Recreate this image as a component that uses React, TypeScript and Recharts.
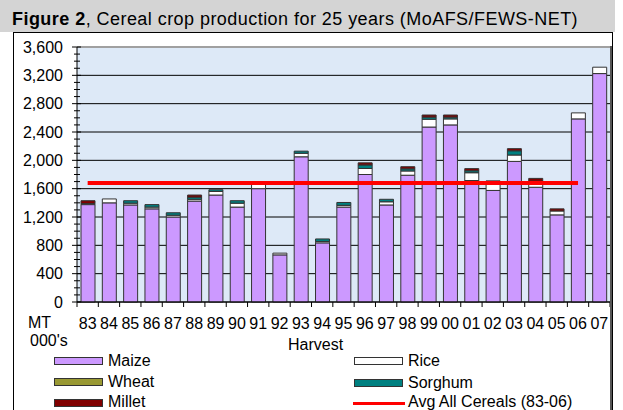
import React from 'react'
import {
  ComposedChart,
  Bar,
  Line,
  XAxis,
  YAxis,
  CartesianGrid,
  ReferenceLine,
} from 'recharts'

const years = ['83', '84', '85', '86', '87', '88', '89', '90', '91', '92', '93', '94', '95', '96', '97', '98', '99', '00', '01', '02', '03', '04', '05', '06', '07']
const maize = [1375, 1400, 1370, 1315, 1200, 1425, 1510, 1340, 1600, 665, 2050, 835, 1340, 1800, 1370, 1790, 2470, 2500, 1715, 1575, 1985, 1620, 1230, 2585, 3225]
const rice = [15, 55, 25, 25, 25, 25, 50, 55, 60, 25, 50, 20, 25, 85, 45, 60, 110, 85, 110, 115, 90, 50, 55, 85, 90]
const wheat = [0, 0, 0, 0, 0, 0, 0, 0, 0, 0, 0, 0, 0, 0, 0, 0, 0, 0, 0, 0, 0, 10, 0, 0, 0]
const sorghum = [0, 0, 35, 35, 35, 30, 25, 35, 0, 0, 30, 35, 40, 50, 35, 30, 30, 25, 28, 10, 60, 25, 0, 0, 0]
const millet = [40, 0, 0, 0, 0, 30, 0, 0, 0, 0, 0, 0, 0, 30, 0, 30, 30, 30, 30, 10, 30, 40, 30, 0, 0]
const avgAll = [1680, 1680, 1680, 1680, 1680, 1680, 1680, 1680, 1680, 1680, 1680, 1680, 1680, 1680, 1680, 1680, 1680, 1680, 1680, 1680, 1680, 1680, 1680, 1680, null]
const yTicks = [0, 400, 800, 1200, 1600, 2000, 2400, 2800, 3200, 3600]

const FONT = '"Liberation Sans", Arial, sans-serif'
const PLOT_LEFT = 77
const PLOT_TOP = 47
const PLOT_RIGHT = 610
const PLOT_BOTTOM = 302
const PLOT_H = PLOT_BOTTOM - PLOT_TOP
const BAND = (PLOT_RIGHT - PLOT_LEFT) / years.length

const data = years.map((year, i) => ({
  year,
  maize: maize[i],
  rice: rice[i],
  wheat: wheat[i],
  sorghum: sorghum[i],
  millet: millet[i],
  avg: avgAll[i],
}))

function YTick({ x, y, payload }: any) {
  const v = payload.value as number
  const step = PLOT_H / 36
  const minors = v > 0 ? [1, 2, 3] : []
  return (
    <g>
      <line x1={x - 5} x2={x + 4} y1={y} y2={y} stroke="#000" />
      {minors.map((k) => (
        <line key={k} x1={x - 3} x2={x + 3} y1={y + k * step} y2={y + k * step} stroke="#000" />
      ))}
      <text x={x - 14} y={y} dy="0.35em" textAnchor="end" fontSize={16} fontFamily={FONT} fill="#000">
        {v.toLocaleString('en-US')}
      </text>
    </g>
  )
}

function XTick({ x, y, payload, index }: any) {
  return (
    <g>
      <line x1={x - BAND / 2} x2={x - BAND / 2} y1={y} y2={y + 5} stroke="#000" />
      {index === years.length - 1 && (
        <line x1={x + BAND / 2} x2={x + BAND / 2} y1={y} y2={y + 5} stroke="#000" />
      )}
      <text x={x} y={y + 21} dy="0.35em" textAnchor="middle" fontSize={16} fontFamily={FONT} fill="#000">
        {payload.value}
      </text>
    </g>
  )
}

function Swatch({ left, top, color }: { left: number; top: number; color: string }) {
  return (
    <div style={{ position: 'absolute', left, top, width: 47, height: 6, background: color, border: '1px solid #333' }} />
  )
}

function LegendText({ left, top, children }: { left: number; top: number; children: React.ReactNode }) {
  return (
    <div style={{ position: 'absolute', left, top, fontSize: 16, lineHeight: '16px', whiteSpace: 'nowrap' }}>{children}</div>
  )
}

export default function App() {
  return (
    <div style={{ position: 'absolute', left: 0, top: 0, width: 623, height: 410, overflow: 'hidden', background: '#fff', fontFamily: FONT, color: '#000' }}>
      <div style={{ position: 'absolute', left: 0, top: 0, width: 615, height: 32, background: '#d4d4d4' }} />
      <div style={{ position: 'absolute', left: 12, top: 9, fontSize: 18, lineHeight: '20px', letterSpacing: 0.45, whiteSpace: 'nowrap' }}>
        <b>Figure 2</b>, Cereal crop production for 25 years (MoAFS/FEWS-NET)
      </div>
      <div style={{ position: 'absolute', left: 13, top: 32, width: 598, height: 400, border: '1px solid #000' }} />

      <div style={{ position: 'absolute', left: 0, top: 0 }}>
        <ComposedChart width={623} height={410} data={data} margin={{ top: PLOT_TOP, right: 623 - PLOT_RIGHT, bottom: 0, left: 0 }}>
          <CartesianGrid vertical={false} stroke="#000" fill="#dde9f7" fillOpacity={1} />
          <XAxis
            dataKey="year"
            height={410 - PLOT_BOTTOM}
            interval={0}
            tickSize={0}
            tickMargin={0}
            tickLine={false}
            axisLine={{ stroke: '#000' }}
            tick={<XTick />}
          />
          <YAxis
            width={PLOT_LEFT}
            domain={[0, 3600]}
            ticks={yTicks}
            interval={0}
            tickSize={0}
            tickMargin={0}
            tickLine={false}
            axisLine={{ stroke: '#000' }}
            tick={<YTick />}
          />
          <ReferenceLine y={3600} stroke="#a0a0a0" strokeWidth={2} />
          <Bar dataKey="maize" stackId="a" fill="#cc99ff" stroke="#333" barSize={14} isAnimationActive={false} />
          <Bar dataKey="rice" stackId="a" fill="#ffffff" stroke="#333" barSize={14} isAnimationActive={false} />
          <Bar dataKey="wheat" stackId="a" fill="#999933" stroke="#333" barSize={14} isAnimationActive={false} />
          <Bar dataKey="sorghum" stackId="a" fill="#008080" stroke="#333" barSize={14} isAnimationActive={false} />
          <Bar dataKey="millet" stackId="a" fill="#800000" stroke="#333" barSize={14} isAnimationActive={false} />
          <Line dataKey="avg" stroke="#ff0000" strokeWidth={4} dot={false} activeDot={false} isAnimationActive={false} />
        </ComposedChart>
      </div>
      <div style={{ position: 'absolute', left: PLOT_RIGHT, top: PLOT_TOP - 1, width: 2, height: 410, background: '#555' }} />

      <div style={{ position: 'absolute', left: 28, top: 315, fontSize: 16, lineHeight: '16px' }}>MT</div>
      <div style={{ position: 'absolute', left: 30, top: 333, fontSize: 16, lineHeight: '16px' }}>000's</div>
      <div style={{ position: 'absolute', left: 288, top: 337, fontSize: 16, lineHeight: '16px' }}>Harvest</div>

      <Swatch left={54} top={357} color="#cc99ff" />
      <LegendText left={108} top={353}>Maize</LegendText>
      <Swatch left={54} top={378} color="#999933" />
      <LegendText left={108} top={374}>Wheat</LegendText>
      <Swatch left={54} top={399} color="#800000" />
      <LegendText left={108} top={394}>Millet</LegendText>

      <Swatch left={354} top={357} color="#ffffff" />
      <LegendText left={408} top={353}>Rice</LegendText>
      <Swatch left={354} top={379} color="#008080" />
      <LegendText left={408} top={375}>Sorghum</LegendText>
      <div style={{ position: 'absolute', left: 353, top: 402, width: 52, height: 3, background: '#ff0000' }} />
      <LegendText left={408} top={394}>Avg All Cereals (83-06)</LegendText>
    </div>
  )
}
